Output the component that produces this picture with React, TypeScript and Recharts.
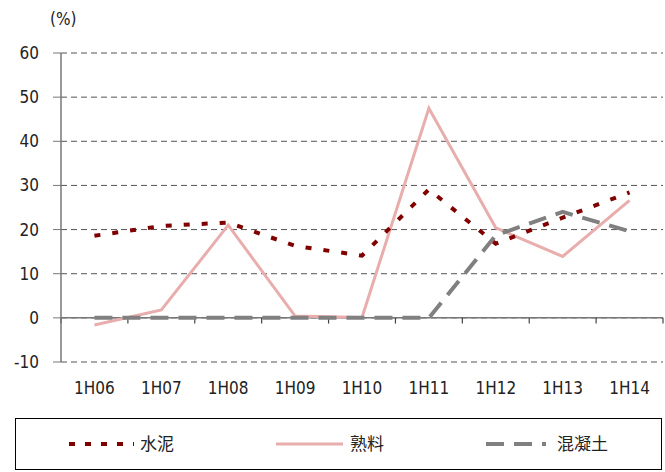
import {
  CartesianGrid,
  Line,
  LineChart,
  ReferenceLine,
  XAxis,
  YAxis,
} from "recharts";

const categories = ["1H06", "1H07", "1H08", "1H09", "1H10", "1H11", "1H12", "1H13", "1H14"];
const cement = [18.6, 20.8, 21.6, 16.3, 14.1, 29.1, 16.8, 22.7, 28.4];
const clinker = [-1.6, 1.8, 21, 0.4, 0.1, 47.5, 20.4, 13.9, 26.6];
const concrete = [0, 0, 0, 0, 0, 0, 18.7, 24, 19.6];
const yTicks = [-10, 0, 10, 20, 30, 40, 50, 60];

// each category sits in the middle of its slot on a numeric axis,
// so the slot boundaries can carry the small tick marks on the zero line
const data = categories.map((c, i) => ({
  pos: i + 0.5,
  name: c,
  cement: cement[i],
  clinker: clinker[i],
  concrete: concrete[i],
}));
const centers = data.map((d) => d.pos);
const boundaries = categories.map((_, i) => i).concat(categories.length);

const numFont = "'Liberation Sans Narrow', 'Arial Narrow', 'DejaVu Sans Condensed', sans-serif";
const cjkFont = "'Noto Sans CJK SC', sans-serif";

const LegendBox = () => (
  <div
    style={{
      position: "absolute",
      left: 15,
      top: 418,
      width: 647,
      height: 52,
      border: "1px solid #000",
      boxSizing: "border-box",
    }}
  >
    <svg width={645} height={50} style={{ position: "absolute", left: 0, top: 0 }}>
      <line x1={53} x2={118} y1={25} y2={25} stroke="#800000" strokeWidth={4} strokeDasharray="6 10" />
      <text x={124} y={31} fontFamily={cjkFont} fontSize={17} fill="#222">水泥</text>
      <line x1={260} x2={327} y1={25} y2={25} stroke="#E8AEAD" strokeWidth={3} />
      <text x={334} y={31} fontFamily={cjkFont} fontSize={17} fill="#222">熟料</text>
      <line x1={470} x2={530} y1={25} y2={25} stroke="#808080" strokeWidth={4} strokeDasharray="18 10" />
      <text x={541} y={31} fontFamily={cjkFont} fontSize={17} fill="#222">混凝土</text>
    </svg>
  </div>
);

export default function App() {
  return (
    <div style={{ position: "absolute", left: 0, top: 0, width: 665, height: 472, background: "#fff" }}>
      <div
        style={{
          position: "absolute",
          left: 50,
          top: 9,
          fontFamily: numFont,
          fontSize: 17,
          color: "#222",
        }}
      >
        (%)
      </div>
      <LineChart
        width={665}
        height={472}
        data={data}
        margin={{ top: 53, right: 2, bottom: 80, left: 0 }}
      >
        <CartesianGrid
          vertical={false}
          stroke="#555"
          strokeDasharray="6 4"
          strokeWidth={1}
        />
        <XAxis
          dataKey="pos"
          type="number"
          domain={[0, categories.length]}
          allowDataOverflow
          ticks={centers}
          interval={0}
          tickFormatter={(v: number) => categories[Math.floor(v)]}
          axisLine={false}
          tickLine={false}
          tickSize={0}
          tickMargin={20}
          height={30}
          tick={{ fontSize: 17, fill: "#222", fontFamily: numFont }}
        />
        <YAxis
          width={61}
          domain={[-10, 60]}
          ticks={yTicks}
          interval={0}
          axisLine={{ stroke: "#777", strokeWidth: 1.5 }}
          tickLine={{ stroke: "#777" }}
          tickSize={8}
          tickMargin={14}
          tick={{ fontSize: 17, fill: "#222", fontFamily: numFont }}
        />
        <ReferenceLine y={0} stroke="#777" strokeWidth={1.5} />
        {boundaries.map((b) => (
          <ReferenceLine
            key={b}
            ifOverflow="visible"
            segment={[
              { x: b, y: 0 },
              { x: b, y: -1.3 },
            ]}
            stroke="#444"
            strokeWidth={1.2}
          />
        ))}
        <Line
          dataKey="clinker"
          stroke="#E8AEAD"
          strokeWidth={3}
          dot={false}
          type="linear"
          isAnimationActive={false}
        />
        <Line
          dataKey="concrete"
          stroke="#808080"
          strokeWidth={4}
          strokeDasharray="18 10"
          dot={false}
          type="linear"
          isAnimationActive={false}
        />
        <Line
          dataKey="cement"
          stroke="#800000"
          strokeWidth={4}
          strokeDasharray="6 12"
          dot={false}
          type="linear"
          isAnimationActive={false}
        />
      </LineChart>
      <LegendBox />
    </div>
  );
}
